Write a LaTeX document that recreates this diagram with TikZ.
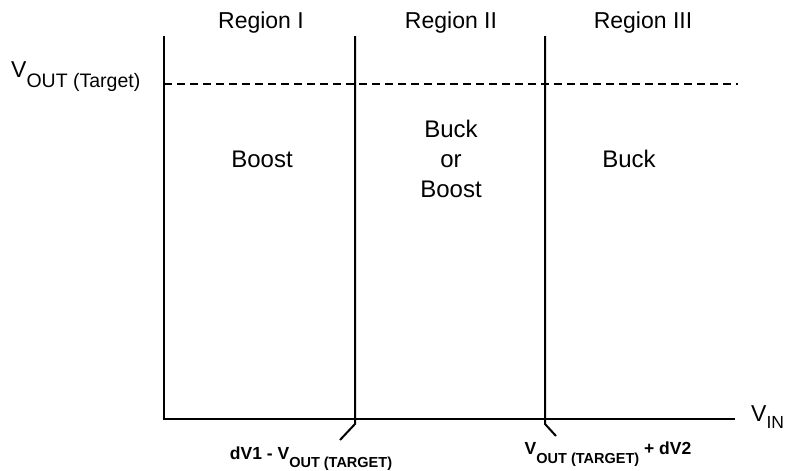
\documentclass[tikz,border=0pt]{standalone}
\usepackage{fontspec}
\setmainfont{Liberation Sans}
\usetikzlibrary{positioning}
\definecolor{cink}{HTML}{000000}
\tikzset{
  axis/.style={line width=2pt, color=cink},
  guide/.style={line width=1.6pt, color=cink, dash pattern=on 8pt off 5pt},
  region/.style={font=\fontsize{23}{28}\selectfont, anchor=base, inner sep=0pt},
  mode/.style={font=\fontsize{24}{30}\selectfont, align=center,
    anchor=base, inner sep=0pt},
  ticklbl/.style={font=\bfseries\fontsize{17.5}{20}\selectfont,
    anchor=base, inner sep=0pt},
  vlbl/.style={font=\fontsize{23}{26}\selectfont, anchor=base west, inner sep=0pt},
}
\newcommand{\lowsub}[3]{\raisebox{-#2}{\fontsize{#1}{#1}\selectfont #3}}

\begin{document}
\begin{tikzpicture}[x=1pt, y=-1pt]
\useasboundingbox (0,0) rectangle (787,471);

%% ── Axes ──────────────────────────────────────────────────
\coordinate (top)    at (164,36);
\coordinate (origin) at (164,419);
\coordinate (xend)   at (735,419);
\draw[axis] (top) -- (origin) -- (xend);

%% ── Region borders ────────────────────────────────────────
\coordinate (b1top) at (355,36);
\coordinate (b1bot) at (355,424);
\coordinate (b1tip) at (340,440);
\coordinate (b2top) at (545,36);
\coordinate (b2bot) at (545,424);
\coordinate (b2tip) at (556,436);
\draw[axis] (b1top) -- (b1bot) -- (b1tip);
\draw[axis] (b2top) -- (b2bot) -- (b2tip);

%% ── Target line ───────────────────────────────────────────
\coordinate (tgtl) at (164,84);
\coordinate (tgtr) at (738,84);
\draw[guide] (tgtl) -- (tgtr);

%% ── Region titles ─────────────────────────────────────────
\node[region] (reg1) at (261,28) {Region I};
\node[region] (reg2) at (451,28) {Region II};
\node[region] (reg3) at (643,28) {Region III};

%% ── Modes ─────────────────────────────────────────────────
\node[mode] (boost) at (262,167) {Boost};
\node[mode] (buckboost) at (451,197) {Buck\\or\\Boost};
\node[mode] (buck) at (629,167) {Buck};

%% ── Axis labels ───────────────────────────────────────────
\node[vlbl] (vout) at (11,77) {V\lowsub{19.5}{10pt}{OUT (Target)}};
\node[vlbl, right=16pt of xend, anchor=west, yshift=2pt] (vin)
  {V\lowsub{17.5}{7pt}{IN}};

\node[ticklbl] (dv1) at (311,459)
  {dV1 - V\lowsub{14.5}{8pt}{OUT (TARGET)}};
\node[ticklbl] (dv2) at (608,454)
  {V\lowsub{14.5}{9pt}{OUT (TARGET)} + dV2};

\end{tikzpicture}
\end{document}
